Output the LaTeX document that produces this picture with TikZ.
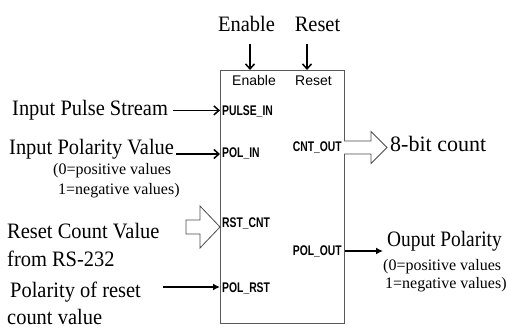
\documentclass[tikz,border=0pt]{standalone}
\usepackage{fontspec}
\setmainfont{Liberation Serif}[FakeStretch=0.93]
\newfontfamily\noteserif{Liberation Serif}
\newfontfamily\narrowserif{Liberation Serif}[FakeStretch=0.88]
\newfontfamily\pinfont{Liberation Sans}[FakeStretch=0.74]
\newfontfamily\ctlfont{Liberation Sans}
\usetikzlibrary{arrows.meta}

\tikzset{
  big/.style={font=\fontsize{22}{24}\selectfont, inner sep=0pt, anchor=base west},
  note/.style={font=\noteserif\fontsize{16}{18}\selectfont, inner sep=0pt, anchor=base west},
  pin/.style={font=\pinfont\bfseries\fontsize{14}{15}\selectfont, inner sep=0pt},
  ctl/.style={font=\ctlfont\fontsize{14}{15}\selectfont, inner sep=0pt, anchor=base},
  sig/.style={line width=1.5pt, -{Straight Barb[length=5pt,width=9pt]}},
  dot/.style={line width=1.5pt, -{Latex[length=7pt,width=7pt]}},
  bus/.style={draw=black!70, line width=0.8pt, fill=white},
}

\begin{document}
\begin{tikzpicture}[x=1pt, y=-1pt]
\useasboundingbox (0,0) rectangle (507,329);

% counter block
\node[draw=black!65, line width=0.9pt, minimum width=124pt, minimum height=253pt,
      inner sep=0pt, anchor=north west] (blk) at (220,70) {};

% control inputs on top
\node[big, anchor=base] (en) at (246.5,32) {Enable};
\node[big, anchor=base] (rs) at (317.5,32) {Reset};
\coordinate (enA) at (250,44);
\coordinate (rsA) at (307,44);
\draw[sig] (enA) -- (enA |- blk.north);
\draw[sig] (rsA) -- (rsA |- blk.north);
\node[ctl] (enP) at (254,85.3) {Enable};
\node[ctl] (rsP) at (313.5,85.3) {Reset};

% pin names
\node[pin, anchor=base west] (p1) at (222,115.3) {PULSE\_IN};
\node[pin, anchor=base west] (p2) at (222,158) {POL\_IN};
\node[pin, anchor=base west] (p3) at (222,228) {RST\_CNT};
\node[pin, anchor=base west] (p4) at (222,292) {POL\_RST};
\node[pin, anchor=base east] (p5) at (342,152) {CNT\_OUT};
\node[pin, anchor=base east] (p6) at (342,255) {POL\_OUT};

% inputs on the left
\node[big] (t1) at (12,115.7) {Input Pulse Stream};
\draw[sig] ([xshift=5pt]t1.east) -- (t1.east -| blk.west);

\node[big] (t2) at (9,154) {Input Polarity Value};
\draw[sig] ([xshift=2pt]t2.base east) -- (t2.base east -| blk.west);
\node[note] (t2a) at (53,175) {(0=positive values};
\node[note] (t2b) at (58,194) {1=negative values)};

\node[big] (t3a) at (7,238) {Reset Count Value};
\node[big] (t3b) at (7,266) {from RS-232};
\coordinate (rcIn) at (220,227);
\draw[bus] (rcIn) ++(-34,-7) -- ++(14,0) -- ++(0,-14) -- ++(20,21)
      -- ++(-20,21) -- ++(0,-14) -- ++(-14,0) -- cycle;

\node[big] (t4a) at (10,298) {Polarity of reset};
\node[big] (t4b) at (7,324) {count value};
\coordinate (prIn) at (163,287);
\draw[dot] (prIn) -- (prIn -| blk.west);

% outputs on the right
\coordinate (cnOut) at (344,147.5);
\draw[bus] (cnOut) ++(0,-6.5) -- ++(27,0) -- ++(0,-9.5) -- ++(16,16)
      -- ++(-16,16) -- ++(0,-9.5) -- ++(-27,0);
\node[big, font=\noteserif\fontsize{22}{24}\selectfont] (o1) at (390,152) {8-bit count};

\coordinate (poOut) at (383,251);
\draw[dot] (poOut -| blk.east) -- (poOut);
\node[big, font=\narrowserif\fontsize{22}{24}\selectfont] (o2) at (387,247) {Ouput Polarity};
\node[note] (o2a) at (383,270) {(0=positive values};
\node[note] (o2b) at (385,288) {1=negative values)};
\end{tikzpicture}
\end{document}
